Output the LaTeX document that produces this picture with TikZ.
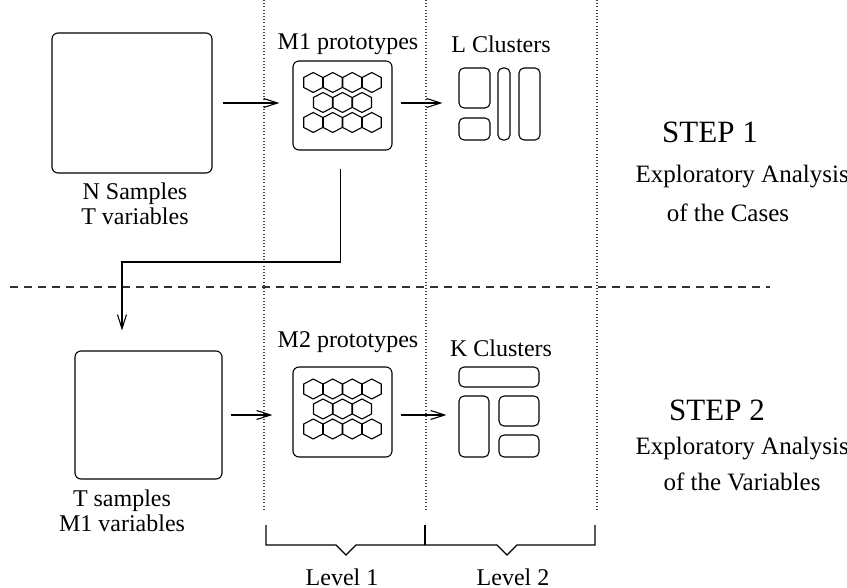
\documentclass[tikz,border=0pt]{standalone}
\usepackage{fontspec}
\setmainfont{Liberation Serif}
\usetikzlibrary{arrows.meta, positioning}

\begin{document}
\begin{tikzpicture}[x=0.5pt, y=-0.5pt, line width=0.55pt,
    txt/.style={inner sep=0pt, font=\fontsize{12pt}{12.5pt}\selectfont},
    sidetxt/.style={inner sep=0pt, font=\fontsize{12.5pt}{13pt}\selectfont},
    steptxt/.style={inner sep=0pt, font=\fontsize{15.5pt}{16pt}\selectfont},
    databox/.style={draw, rounded corners=3pt, inner sep=0pt},
    clu/.style={draw, rounded corners=2.5pt, inner sep=0pt},
    arr/.style={-{Straight Barb[length=7pt, width=4.5pt]}},
    guide/.style={dash pattern=on 0.5pt off 1.1pt, black!75}]
  \useasboundingbox (0,0) rectangle (847,588);
  % level guides and step separator
  \foreach \gx in {264,426,597}
    \draw[guide] (\gx,0) -- (\gx,510);
  \draw[dash pattern=on 4pt off 3pt, black!80] (10,287) -- (770,287);

  % step 1
  \node[databox, minimum width=80pt, minimum height=70pt] (samp1) at (132,103) {};
  \node[txt, align=center, anchor=north] (samp1lab) at (135,182) {N Samples\\T variables};
  \node[databox, minimum width=49.5pt, minimum height=44.5pt] (m1) at (342.5,105.5) {};
  \node[txt, anchor=base] (m1lab) at (348,50) {M1 prototypes};
  \node[txt, anchor=base] (lclab) at (501,53) {L Clusters};
  \node[clu, minimum width=15.5pt, minimum height=20pt] (lc1) at (474.5,88) {};
  \node[clu, minimum width=15.5pt, minimum height=11pt] (lc2) at (474.5,129) {};
  \node[clu, minimum width=6pt, minimum height=36pt] (lc3) at (504,104) {};
  \node[clu, minimum width=10.5pt, minimum height=36pt] (lc4) at (529.5,104) {};
  \node[steptxt, anchor=base] (step1) at (710,143) {STEP 1};
  \node[sidetxt, anchor=base west] (step1a) at (635,183) {Exploratory Analysis};
  \node[sidetxt, anchor=base] (step1b) at (728,222) {of the Cases};

  % step 2
  \node[databox, minimum width=73.5pt, minimum height=64pt] (samp2) at (148.5,415) {};
  \node[txt, align=center, anchor=north] (samp2lab) at (122,489) {T samples\\M1 variables};
  \node[databox, minimum width=49.5pt, minimum height=45pt] (m2) at (342.5,412) {};
  \node[txt, anchor=base] (m2lab) at (348,348) {M2 prototypes};
  \node[txt, anchor=base] (kclab) at (501,357) {K Clusters};
  \node[clu, minimum width=40pt, minimum height=10pt] (kc1) at (499,377) {};
  \node[clu, minimum width=15pt, minimum height=30.5pt] (kc2) at (474,426.5) {};
  \node[clu, minimum width=20pt, minimum height=15pt] (kc3) at (519,411) {};
  \node[clu, minimum width=20pt, minimum height=11pt] (kc4) at (519,446) {};
  \node[steptxt, anchor=base] (step2) at (717,421) {STEP 2};
  \node[sidetxt, anchor=base west] (step2a) at (635,455) {Exploratory Analysis};
  \node[sidetxt, anchor=base] (step2b) at (742,490) {of the Variables};

  % prototype maps
  \foreach \m in {m1,m2}
    \foreach \hy/\n/\hx in {-20/4/-29.25, 0/3/-19.5, 20/4/-29.25}
      \foreach \k in {1,...,\n}
        \draw[shift={(\m)}, shift={(\hx+19.5*\k-19.5,\hy-3)}]
          (0,-10) -- (-9.5,-5) -- (-9.5,5) -- (0,10) -- (9.5,5) -- (9.5,-5) -- cycle;

  % flow
  \draw[arr, shorten <=5pt, shorten >=6.5pt] (samp1.east) -- (samp1.east -| m1.west);
  \draw[arr, shorten <=4pt, shorten >=8pt] (samp1.east -| m1.east) -- (samp1.east -| lc1.west);
  \coordinate (bend) at (122,262);
  \draw[arr] ([xshift=-1pt, yshift=-9pt]m1.south) |- (bend) -- ([yshift=10pt]bend |- samp2.north);
  \draw[arr, shorten <=4pt, shorten >=10pt] (samp2.east) -- (samp2.east -| m2.west);
  \draw[arr, shorten <=4pt, shorten >=6pt] (samp2.east -| m2.east) -- (samp2.east -| kc2.west);

  % levels
  \draw (266,525) -- (266,545) -- (336,545) -- (346,555) -- (356,545) -- (497,545)
    -- (507,555) -- (517,545) -- (595,545) -- (595,525);
  \draw (425,525) -- (425,545);
  \node[txt, anchor=base] (lev1) at (342,585) {Level 1};
  \node[txt, anchor=base] (lev2) at (513,585) {Level 2};
\end{tikzpicture}
\end{document}
